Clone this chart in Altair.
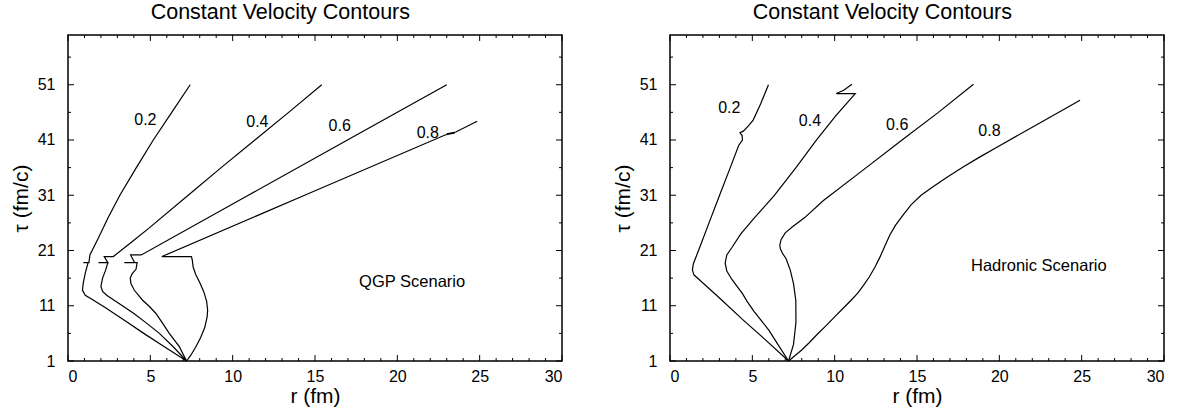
import altair as alt
import pandas as pd

FONT = "Liberation Sans"
W, H = 494, 326

# ---------------- data: QGP scenario (left panel) ----------------
qgp_02_r = [7.2, 5.9, 4.6, 3.4, 2.3, 1.55, 1.05, 0.88, 0.92, 1.05, 1.22, 0.93, 1.27, 1.33, 1.8, 2.45, 3.15, 4.15, 5.18, 6.3, 7.42]
qgp_02_t = [1.0, 3.5, 6.0, 8.4, 10.6, 12.0, 12.9, 13.8, 15.0, 16.9, 18.8, 18.8, 18.8, 20.2, 23.0, 27.0, 31.0, 36.0, 41.0, 46.0, 51.0]

qgp_04_r = [7.2, 6.45, 5.55, 4.75, 4.0, 3.35, 2.8, 2.35, 2.1, 2.0, 2.1, 2.28, 2.42, 1.85, 2.42, 2.2, 2.75, 3.85, 4.9, 7.3, 9.3, 11.35, 13.4, 15.41]
qgp_04_t = [1.0, 3.4, 6.0, 7.9, 9.6, 10.9, 12.0, 12.9, 13.6, 14.5, 16.0, 17.4, 18.8, 18.8, 18.8, 19.9, 19.9, 22.5, 25.0, 31.0, 36.0, 41.0, 46.0, 51.0]

qgp_06_r = [7.2, 6.76, 6.15, 5.75, 5.34, 4.93, 4.53, 4.03, 3.82, 3.78, 3.9, 4.13, 4.2, 3.42, 4.05, 3.8, 4.45, 10.95, 16.97, 23.0]
qgp_06_t = [1.0, 3.6, 6.0, 7.8, 9.6, 10.9, 12.0, 13.8, 15.0, 16.0, 16.8, 17.6, 18.8, 18.8, 18.8, 20.2, 20.2, 31.0, 41.0, 51.0]

qgp_08_r = [7.2, 7.45, 7.75, 8.05, 8.3, 8.45, 8.48, 8.42, 8.25, 8.0, 7.75, 7.6, 7.55, 7.5, 5.7, 14.3, 22.9, 23.5, 23.0, 23.55, 24.85]
qgp_08_t = [1.0, 2.0, 3.5, 5.2, 7.0, 9.0, 10.2, 11.8, 13.5, 15.2, 16.7, 18.0, 19.2, 19.9, 19.9, 30.9, 41.9, 42.3, 42.1, 42.45, 44.4]

qgp_lab_text = ["0.2", "0.4", "0.6", "0.8"]
qgp_lab_r = [4.7, 11.5, 16.5, 21.85]
qgp_lab_t = [44.7, 44.2, 43.5, 42.3]

# ---------------- data: Hadronic scenario (right panel) ----------------
had_02_r = [7.2, 5.73, 4.45, 3.04, 1.75, 1.45, 1.36, 1.42, 1.86, 2.37, 3.01, 3.66, 4.17, 4.4, 4.38, 4.25, 4.45, 4.75, 5.05, 5.5, 5.98]
had_02_t = [1.0, 5.0, 8.4, 12.3, 15.8, 16.6, 17.5, 18.6, 22.0, 26.0, 31.0, 36.0, 40.0, 41.0, 41.8, 42.3, 42.6, 43.5, 44.6, 47.5, 51.0]

had_04_r = [7.2, 6.55, 6.0, 5.5, 5.1, 4.7, 4.4, 4.05, 3.75, 3.45, 3.35, 3.45, 3.75, 4.3, 5.15, 6.35, 7.65, 8.9, 10.05, 11.25, 10.1, 10.55, 11.05]
had_04_t = [1.0, 4.0, 6.6, 8.5, 10.0, 11.7, 13.2, 14.6, 15.8, 17.3, 18.7, 20.2, 21.5, 24.0, 27.0, 31.0, 36.0, 41.0, 45.3, 49.4, 49.4, 50.0, 51.1]

had_06_r = [7.2, 7.5, 7.65, 7.64, 7.5, 7.3, 7.05, 6.83, 6.7, 6.67, 6.75, 7.0, 7.44, 8.2, 9.3, 11.7, 14.13, 16.3, 18.43]
had_06_t = [1.0, 4.0, 8.0, 12.0, 15.0, 17.5, 19.5, 20.5, 21.3, 22.0, 23.0, 24.2, 25.3, 27.0, 30.0, 35.5, 41.1, 46.0, 51.1]

had_08_r = [7.2, 7.6, 8.0, 8.45, 8.9, 9.45, 10.0, 10.5, 11.0, 11.4, 11.75, 12.1, 12.45, 12.75, 13.05, 13.35, 13.7, 14.15, 14.65, 15.25, 15.95, 16.8, 17.8, 18.8, 19.8, 22.35, 24.9]
had_08_t = [1.0, 2.0, 3.0, 4.3, 5.7, 7.3, 9.0, 10.5, 12.0, 13.3, 14.7, 16.2, 18.0, 19.8, 21.8, 23.8, 25.6, 27.4, 29.3, 31.0, 32.5, 34.2, 36.1, 37.9, 39.6, 43.9, 48.2]

had_lab_text = ["0.2", "0.4", "0.6", "0.8"]
had_lab_r = [3.6, 8.5, 13.8, 19.4]
had_lab_t = [46.7, 44.4, 43.7, 42.6]

scen_text = ["QGP Scenario", "Hadronic Scenario"]
scen_r = [20.9, 22.4]
scen_t = [15.3, 18.2]

# axis tick values
x_major = [0, 5, 10, 15, 20, 25, 30]
x_minor = [v for v in range(0, 31) if v % 5 != 0]
y_major = [1, 11, 21, 31, 41, 51]
y_minor = [6, 16, 26, 36, 46, 56]


def lines_frame(curves):
    rows = []
    for name, rs, ts in curves:
        for i, (r, t) in enumerate(zip(rs, ts)):
            rows.append({"v": name, "i": i, "r": r, "tau": t})
    return pd.DataFrame(rows)


def tick_layers(xs, ys):
    """Inward ticks on all four sides of the frame, positioned by the scales."""
    out = []
    for vals, size in ((x_major, 6), (x_minor, 3)):
        df = pd.DataFrame({"r": vals})
        for y0, y1 in ((H, H - size), (0, size)):
            out.append(alt.Chart(df).mark_rule(color="black", strokeWidth=1).encode(
                x=alt.X("r:Q", scale=xs, axis=None),
                y=alt.value(y0), y2=alt.value(y1)))
    for vals, size in ((y_major, 6), (y_minor, 3)):
        df = pd.DataFrame({"tau": vals})
        for x0, x1 in ((0, size), (W, W - size)):
            out.append(alt.Chart(df).mark_rule(color="black", strokeWidth=1).encode(
                y=alt.Y("tau:Q", scale=ys, axis=None),
                x=alt.value(x0), x2=alt.value(x1)))
    return out


def panel(curves, lab_text, lab_r, lab_t, s_text, s_r, s_t):
    xs = alt.Scale(domain=[0, 30], nice=False, zero=False)
    ys = alt.Scale(domain=[1, 60], nice=False, zero=False)

    lines = alt.Chart(lines_frame(curves)).mark_line(
        color="black", strokeWidth=1.2
    ).encode(
        x=alt.X("r:Q", scale=xs, axis=alt.Axis(
            orient="bottom", values=x_major, ticks=False, domain=False, grid=False,
            labelFont=FONT, labelFontSize=16, labelColor="black", labelPadding=7,
            title="r (fm)", titleFont=FONT, titleFontSize=21, titleFontWeight="normal",
            titleColor="black", titlePadding=1)),
        y=alt.Y("tau:Q", scale=ys, axis=alt.Axis(
            orient="left", values=y_major, ticks=False, domain=False, grid=False,
            labelFont=FONT, labelFontSize=16, labelColor="black", labelPadding=13,
            title="τ (fm/c)", titleFont=FONT, titleFontSize=21, titleFontWeight="normal",
            titleColor="black", titlePadding=6)),
        detail="v:N",
        order="i:Q",
    )

    labels = alt.Chart(pd.DataFrame({"t": lab_text, "r": lab_r, "tau": lab_t})).mark_text(
        font=FONT, fontSize=16, color="black"
    ).encode(
        x=alt.X("r:Q", scale=xs, axis=None),
        y=alt.Y("tau:Q", scale=ys, axis=None),
        text="t:N",
    )

    scen = alt.Chart(pd.DataFrame({"t": [s_text], "r": [s_r], "tau": [s_t]})).mark_text(
        font=FONT, fontSize=16.5, color="black"
    ).encode(
        x=alt.X("r:Q", scale=xs, axis=None),
        y=alt.Y("tau:Q", scale=ys, axis=None),
        text="t:N",
    )

    return alt.layer(lines, labels, scen, *tick_layers(xs, ys)).resolve_axis(
        x="independent", y="independent"
    ).properties(
        width=W, height=H,
        title=alt.TitleParams(
            text="Constant Velocity Contours", font=FONT, fontSize=21.5,
            fontWeight="normal", color="black", anchor="middle", frame="bounds",
            offset=11, dx=-6,
        ),
    )


left = panel(
    [("0.2", qgp_02_r, qgp_02_t), ("0.4", qgp_04_r, qgp_04_t),
     ("0.6", qgp_06_r, qgp_06_t), ("0.8", qgp_08_r, qgp_08_t)],
    qgp_lab_text, qgp_lab_r, qgp_lab_t, scen_text[0], scen_r[0], scen_t[0],
)
right = panel(
    [("0.2", had_02_r, had_02_t), ("0.4", had_04_r, had_04_t),
     ("0.6", had_06_r, had_06_t), ("0.8", had_08_r, had_08_t)],
    had_lab_text, had_lab_r, had_lab_t, scen_text[1], scen_r[1], scen_t[1],
)

chart = alt.hconcat(left, right, spacing=47).properties(
    padding={"left": 9, "top": 1, "right": 5, "bottom": 5},
    background="white",
).configure_view(stroke="black", strokeWidth=1.5)

chart.save("out.html", embed_options={"renderer": "svg", "actions": False})
